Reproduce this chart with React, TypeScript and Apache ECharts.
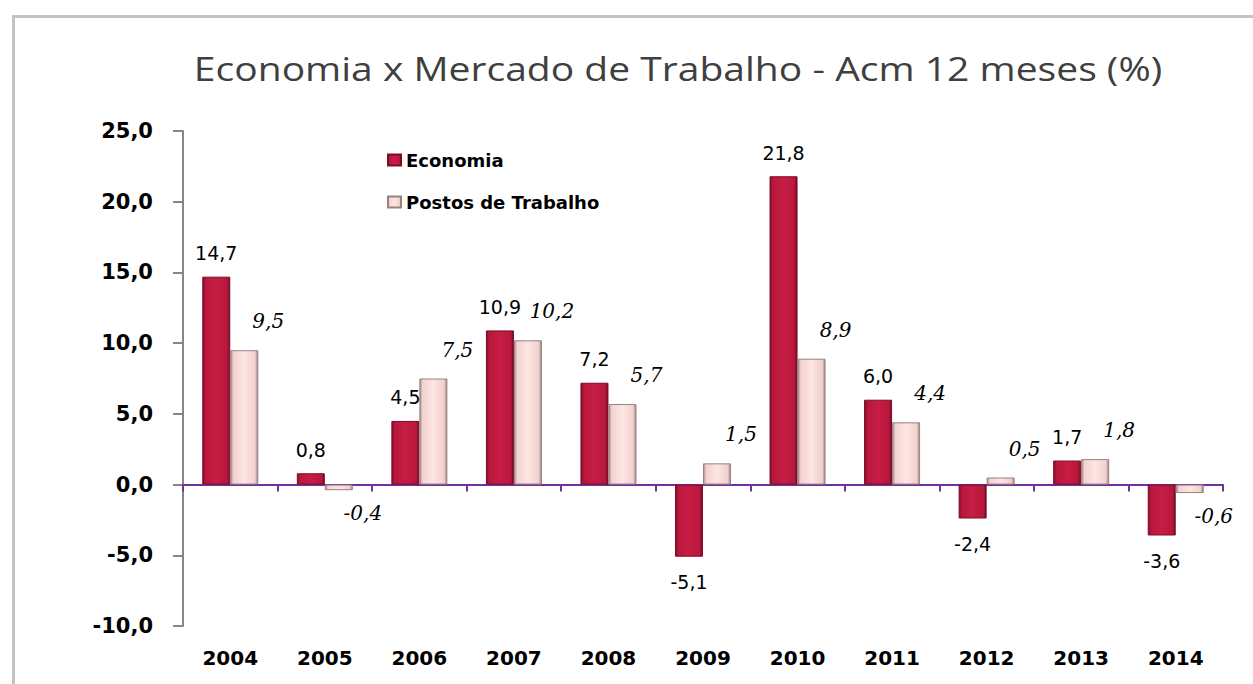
import React, { useEffect, useRef } from "react";
import * as echarts from "echarts";

const TITLE = "Economia x Mercado de Trabalho - Acm 12 meses (%)";
const years = ["2004", "2005", "2006", "2007", "2008", "2009", "2010", "2011", "2012", "2013", "2014"];
const economia = [14.7, 0.8, 4.5, 10.9, 7.2, -5.1, 21.8, 6.0, -2.4, 1.7, -3.6];
const postos = [9.5, -0.4, 7.5, 10.2, 5.7, 1.5, 8.9, 4.4, 0.5, 1.8, -0.6];
const SERIES_NAMES = ["Economia", "Postos de Trabalho"];
const Y_MIN = -10;
const Y_MAX = 25;
const Y_STEP = 5;

const fmt = (v: number) => v.toFixed(1).replace(".", ",");

const econColor = new echarts.graphic.LinearGradient(0, 0, 1, 0, [
  { offset: 0, color: "#7e0c2a" },
  { offset: 0.1, color: "#b8173c" },
  { offset: 0.5, color: "#c71d45" },
  { offset: 0.9, color: "#b8173c" },
  { offset: 1, color: "#6e0a24" },
]);
const postosColor = new echarts.graphic.LinearGradient(0, 0, 1, 0, [
  { offset: 0, color: "#a88e8e" },
  { offset: 0.1, color: "#f2d2cf" },
  { offset: 0.5, color: "#fde6e3" },
  { offset: 0.9, color: "#f0d0cd" },
  { offset: 1, color: "#9a8282" },
]);

export default function App() {
  const ref = useRef<HTMLDivElement>(null);
  useEffect(() => {
    if (!ref.current) return;
    const chart = echarts.init(ref.current, null, { renderer: "svg" });
    chart.setOption({
      animation: false,
      backgroundColor: "#ffffff",
      graphic: [
        {
          type: "rect",
          shape: { x: 13.5, y: 16.5, width: 1300, height: 720 },
          style: { fill: "none", stroke: "#c3c3c3", lineWidth: 3 },
          silent: true,
        },
        {
          type: "text",
          x: 678,
          y: 68,
          scaleX: 1.22,
          silent: true,
          style: {
            text: TITLE,
            fontFamily: "Open Sans",
            fontSize: 32,
            fill: "#3f3f3f",
            textAlign: "center",
            textVerticalAlign: "middle",
          },
        },
      ],
      legend: {
        orient: "vertical",
        left: 382,
        top: 146,
        itemWidth: 13,
        itemHeight: 11,
        itemGap: 24,
        icon: "rect",
        data: SERIES_NAMES,
        textStyle: { fontFamily: "DejaVu Sans", fontWeight: "bold", fontSize: 18, color: "#000" },
      },
      grid: { left: 183, right: 30, top: 131, bottom: 58, containLabel: false },
      xAxis: [
        {
          type: "category",
          data: years,
          position: "bottom",
          axisLine: { onZero: true, lineStyle: { color: "#7030a0", width: 2 } },
          axisTick: { show: true, length: 7, lineStyle: { color: "#7030a0", width: 2 } },
          axisLabel: { show: false },
          splitLine: { show: false },
        },
        {
          type: "category",
          data: years,
          position: "bottom",
          axisLine: { show: false, onZero: false },
          axisTick: { show: false },
          axisLabel: {
            margin: 22,
            fontFamily: "DejaVu Sans",
            fontWeight: "bold",
            fontSize: 20,
            color: "#000",
          },
          splitLine: { show: false },
        },
      ],
      yAxis: {
        type: "value",
        min: Y_MIN,
        max: Y_MAX,
        interval: Y_STEP,
        axisLine: { show: true, lineStyle: { color: "#868686", width: 2 } },
        axisTick: { show: true, length: 10, lineStyle: { color: "#868686", width: 2 } },
        splitLine: { show: false },
        axisLabel: {
          margin: 30,
          formatter: (v: number) => fmt(v),
          fontFamily: "DejaVu Sans",
          fontWeight: "bold",
          fontSize: 21,
          color: "#000",
        },
      },
      series: [
        {
          name: SERIES_NAMES[0],
          type: "bar",
          xAxisIndex: 0,
          barWidth: 28,
          barGap: "0%",
          itemStyle: { color: econColor, borderColor: "#7a0c28", borderWidth: 1 },
          data: economia.map((v) => ({
            value: v,
            label: { position: v < 0 ? "bottom" : "top", distance: v < 0 ? 16 : 14 },
          })),
          label: {
            show: true,
            formatter: (p: any) => fmt(p.value),
            fontFamily: "DejaVu Sans",
            fontSize: 19,
            color: "#000",
          },
        },
        {
          name: SERIES_NAMES[1],
          type: "bar",
          xAxisIndex: 0,
          barWidth: 28,
          barGap: "0%",
          itemStyle: { color: postosColor, borderColor: "#9a8080", borderWidth: 1 },
          data: postos.map((v) => ({
            value: v,
            label: { position: v < 0 ? "bottom" : "top", distance: 16 },
          })),
          label: {
            show: true,
            offset: [24, -3],
            formatter: (p: any) => fmt(p.value),
            fontFamily: "DejaVu Serif",
            fontStyle: "italic",
            fontSize: 20,
            color: "#000",
          },
        },
      ],
    });
    return () => chart.dispose();
  }, []);
  return (
    <div
      ref={ref}
      style={{ position: "fixed", left: 0, top: 0, width: 1253, height: 684 }}
    />
  );
}
